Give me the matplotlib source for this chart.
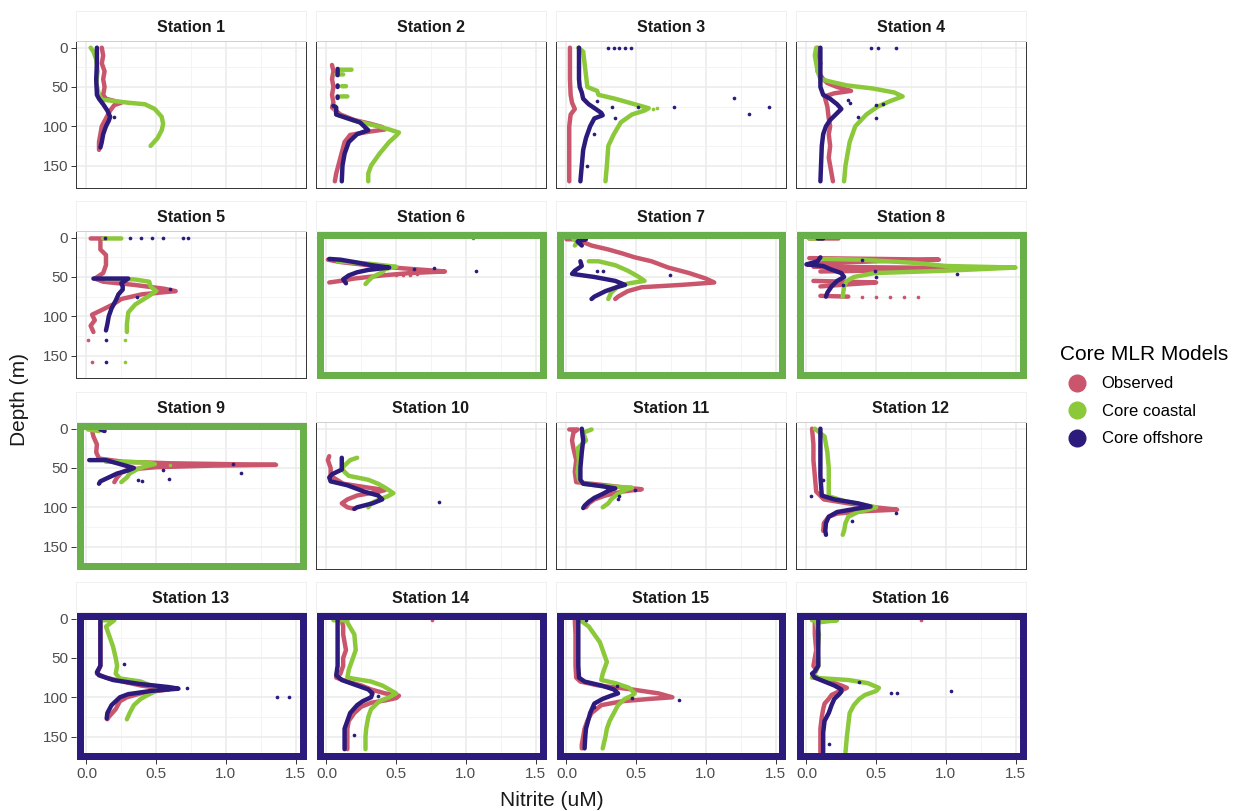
import matplotlib.pyplot as plt
from matplotlib.lines import Line2D
from matplotlib.patches import Rectangle

plt.rcParams['font.family'] = ['Liberation Sans', 'DejaVu Sans']

nan = float('nan')
GAP = (nan, nan)  # breaks a profile line

models = ['Observed', 'Core coastal', 'Core offshore']
model_colors = ['#C9566C', '#8BC83A', '#2C1B7C']
stations = [f'Station {i}' for i in range(1, 17)]
coastal_frame = [6, 7, 8, 9]
offshore_frame = [13, 14, 15, 16]
x_ticks = [0.0, 0.5, 1.0, 1.5]
y_ticks = [0, 50, 100, 150]

# profiles as (depth m, nitrite uM)
obs1 = [(0, 0.11), (10, 0.12), (20, 0.11), (30, 0.13), (40, 0.12), (50, 0.13), (60, 0.12), (65, 0.14), (70, 0.25), (73, 0.2), (80, 0.17), (90, 0.14), (100, 0.11), (110, 0.1), (120, 0.09), (130, 0.09)]
coast1 = [(0, 0.03), (5, 0.05), (15, 0.07), (30, 0.08), (45, 0.07), (60, 0.09), (66, 0.11), (70, 0.3), (72, 0.42), (78, 0.49), (88, 0.54), (97, 0.55), (105, 0.54), (115, 0.51), (121, 0.48), (125, 0.46)]
off1 = [(0, 0.075), (20, 0.075), (40, 0.07), (60, 0.075), (65, 0.09), (72, 0.12), (80, 0.15), (88, 0.17), (93, 0.16), (100, 0.14), (110, 0.12), (120, 0.11), (127, 0.1)]

obs2 = [(22, 0.04), (30, 0.05), (40, 0.04), (50, 0.05), (60, 0.04), (70, 0.05), (76, 0.04), (85, 0.1), (92, 0.2), (97, 0.32), (101, 0.4), (104, 0.42), (107, 0.3), (111, 0.17), (120, 0.13), (140, 0.1), (160, 0.07), (170, 0.06)]
coast2 = [(28, 0.09), (28, 0.18), GAP, (34, 0.07), (34, 0.12), GAP, (49, 0.11), (49, 0.14), GAP, (62, 0.1), (62, 0.15), GAP, (74, 0.06), (85, 0.07), (93, 0.2), (100, 0.37), (104, 0.45), (108, 0.52), (112, 0.5), (120, 0.45), (135, 0.38), (150, 0.32), (160, 0.3), (170, 0.3)]
off2 = [(27, 0.08), (35, 0.08), GAP, (48, 0.08), (50, 0.08), GAP, (62, 0.08), (64, 0.08), GAP, (74, 0.05), (76, 0.07), (85, 0.07), (95, 0.24), (100, 0.27), (105, 0.3), (110, 0.22), (120, 0.16), (135, 0.13), (150, 0.115), (170, 0.11)]

obs3 = [(0, 0.025), (20, 0.025), (40, 0.025), (60, 0.03), (70, 0.04), (78, 0.06), (85, 0.03), (100, 0.02), (130, 0.02), (170, 0.02)]
coast3 = [(0, 0.085), (5, 0.12), (20, 0.13), (35, 0.14), (50, 0.15), (55, 0.22), (60, 0.23), (65, 0.35), (72, 0.49), (77, 0.59), (80, 0.56), (85, 0.47), (95, 0.39), (110, 0.34), (125, 0.3), (150, 0.29), (170, 0.28)]
off3 = [(0, 0.09), (20, 0.09), (40, 0.09), (50, 0.095), (57, 0.11), (65, 0.12), (72, 0.16), (78, 0.21), (83, 0.25), (86, 0.26), (90, 0.2), (100, 0.17), (115, 0.14), (130, 0.12), (150, 0.11), (170, 0.1)]

obs4 = [(0, 0.08), (10, 0.07), (20, 0.1), (30, 0.08), (40, 0.12), (45, 0.15), (50, 0.22), (55, 0.32), (58, 0.2), (62, 0.13), (75, 0.15), (90, 0.16), (100, 0.17), (110, 0.16), (125, 0.17), (140, 0.16), (160, 0.18), (170, 0.19)]
coast4 = [(0, 0.07), (10, 0.06), (20, 0.07), (30, 0.08), (40, 0.1), (44, 0.19), (48, 0.29), (52, 0.48), (57, 0.63), (62, 0.69), (68, 0.6), (75, 0.51), (85, 0.43), (100, 0.35), (120, 0.31), (150, 0.28), (170, 0.27)]
off4 = [(0, 0.1), (20, 0.1), (40, 0.1), (50, 0.1), (60, 0.12), (65, 0.17), (72, 0.22), (78, 0.25), (85, 0.21), (92, 0.17), (100, 0.14), (110, 0.12), (125, 0.11), (170, 0.1)]

obs5 = [(1, 0.03), (1, 0.14), GAP, (5, 0.1), (15, 0.1), (22, 0.14), (35, 0.14), (45, 0.12), (52, 0.06), (56, 0.12), (60, 0.34), (65, 0.56), (68, 0.64), (72, 0.4), (78, 0.25), (85, 0.19), (92, 0.11), (98, 0.04), (105, 0.06), (112, 0.03), (120, 0.05)]
coast5 = [(1, 0.12), (1, 0.25), GAP, (53, 0.14), (53, 0.34), (56, 0.45), (62, 0.46), (68, 0.5), (75, 0.44), (85, 0.35), (95, 0.3), (110, 0.29), (120, 0.29)]
off5 = [(52, 0.05), (52, 0.3), (58, 0.25), (62, 0.26), (66, 0.26), (72, 0.23), (80, 0.21), (90, 0.18), (100, 0.16), (110, 0.15), (118, 0.14)]

obs6 = [(28, 0.01), (31, 0.1), (35, 0.3), (39, 0.55), (42, 0.78), (43, 0.85), (45, 0.6), (48, 0.4), (52, 0.2), (55, 0.1), (57, 0.02)]
coast6 = [(30, 0.08), (33, 0.3), (37, 0.5), (40, 0.42), (44, 0.4), (50, 0.33), (55, 0.3), (59, 0.28)]
off6 = [(27, 0.02), (28, 0.1), (31, 0.2), (35, 0.32), (38, 0.45), (41, 0.3), (44, 0.22), (48, 0.16), (53, 0.12), (58, 0.14)]

obs7 = [(2, 0.0), (2, 0.13), (5, 0.11), (10, 0.18), (15, 0.3), (20, 0.4), (25, 0.49), (30, 0.61), (38, 0.73), (45, 0.88), (52, 1.0), (57, 1.06), (60, 0.83), (63, 0.54), (68, 0.44), (75, 0.37), (78, 0.35)]
coast7 = [(2, 0.05), (5, 0.08), (10, 0.06), GAP, (30, 0.16), (30, 0.23), (35, 0.35), (42, 0.44), (50, 0.52), (55, 0.56), (58, 0.45), (62, 0.37), (70, 0.32), (78, 0.3)]
off7 = [(2, 0.09), (2, 0.14), (5, 0.08), (10, 0.11), GAP, (30, 0.1), (36, 0.11), (42, 0.06), (46, 0.04), (50, 0.2), (55, 0.35), (60, 0.42), (63, 0.36), (68, 0.28), (75, 0.2), (78, 0.18)]

obs8 = [(1, 0.02), (1, 0.23), GAP, (26, 0.02), (27, 0.5), (28, 0.95), (30, 0.5), (33, 0.05), GAP, (37, 0.05), (38, 0.7), (39, 1.3), (41, 0.8), (43, 0.1), GAP, (55, 0.05), (56, 0.3), (57, 0.5), (60, 0.25), (62, 0.1), GAP, (74, 0.1), (75, 0.3)]
coast8 = [(1, 0.02), (1, 0.1), GAP, (27, 0.12), (28, 0.39), (32, 0.77), (36, 1.0), (38, 1.5), (40, 1.25), (42, 1.0), (45, 0.49), (50, 0.34), (55, 0.29), (62, 0.27), (75, 0.26)]
off8 = [(1, 0.08), (1, 0.12), GAP, (25, 0.1), (30, 0.08), (34, 0.0), (36, 0.12), (40, 0.17), (45, 0.25), (50, 0.27), (55, 0.22), (62, 0.18), (70, 0.15), (75, 0.14)]

obs9 = [(2, 0.04), (10, 0.05), (20, 0.075), (30, 0.07), (38, 0.09), (42, 0.26), (44, 0.6), (46, 1.36), (47, 0.9), (49, 0.5), (52, 0.3), (56, 0.25), (62, 0.22), (68, 0.2)]
coast9 = [(1, 0.01), (3, 0.09), GAP, (42, 0.14), (43, 0.44), (45, 0.49), (48, 0.42), (52, 0.36), (57, 0.31), (62, 0.29), (68, 0.25)]
off9 = [(1, 0.1), (3, 0.13), GAP, (40, 0.02), (40, 0.14), (45, 0.24), (50, 0.34), (53, 0.3), (57, 0.22), (62, 0.16), (67, 0.1), (70, 0.09)]

obs10 = [(35, 0.02), (40, 0.01), (50, 0.03), (60, 0.03), (70, 0.12), (75, 0.3), (78, 0.42), (80, 0.38), (85, 0.22), (90, 0.15), (95, 0.11), (100, 0.15), (102, 0.2)]
coast10 = [(37, 0.22), (40, 0.17), (45, 0.14), (50, 0.11), (55, 0.13), (60, 0.16), (65, 0.3), (70, 0.37), (75, 0.42), (82, 0.48), (86, 0.44), (90, 0.38), (95, 0.32), (100, 0.3)]
off10 = [(37, 0.11), (45, 0.11), (52, 0.11), (58, 0.04), (62, 0.02), (67, 0.03), (72, 0.15), (80, 0.27), (85, 0.37), (90, 0.4), (95, 0.33), (100, 0.22), (102, 0.2)]

obs11 = [(1, 0.02), (1, 0.08), (5, 0.05), (15, 0.04), (25, 0.05), (40, 0.07), (55, 0.06), (68, 0.07), (72, 0.28), (75, 0.42), (77, 0.54), (80, 0.4), (85, 0.28), (90, 0.2), (95, 0.16), (100, 0.14)]
coast11 = [(1, 0.18), (5, 0.12), (15, 0.14), (25, 0.08), (40, 0.09), (55, 0.08), (65, 0.09), (70, 0.12), (73, 0.25), (75, 0.47), (78, 0.42), (84, 0.36), (90, 0.32), (95, 0.3), (100, 0.26)]
off11 = [(0, 0.11), (15, 0.12), (30, 0.11), (50, 0.1), (65, 0.1), (70, 0.12), (73, 0.25), (76, 0.35), (79, 0.3), (83, 0.26), (88, 0.2), (93, 0.16), (98, 0.13), (101, 0.12)]

obs12 = [(0, 0.04), (20, 0.05), (40, 0.05), (60, 0.06), (80, 0.07), (90, 0.125), (95, 0.3), (100, 0.49), (103, 0.65), (105, 0.41), (108, 0.22), (112, 0.16), (120, 0.125), (130, 0.12)]
coast12 = [(0, 0.06), (10, 0.13), (30, 0.15), (50, 0.16), (70, 0.16), (86, 0.16), (92, 0.27), (96, 0.38), (100, 0.5), (103, 0.44), (106, 0.37), (112, 0.3), (120, 0.28), (130, 0.27), (135, 0.26)]
off12 = [(0, 0.1), (20, 0.1), (40, 0.1), (60, 0.1), (85, 0.11), (90, 0.2), (95, 0.37), (99, 0.46), (102, 0.35), (106, 0.22), (112, 0.16), (120, 0.14), (130, 0.135), (135, 0.14)]

obs13 = [(2, 0.1), (20, 0.1), (40, 0.1), (60, 0.1), (70, 0.075), (75, 0.14), (80, 0.26), (85, 0.39), (88, 0.51), (90, 0.59), (92, 0.5), (95, 0.39), (100, 0.29), (105, 0.24), (115, 0.21), (125, 0.16), (128, 0.15)]
coast13 = [(2, 0.1), (2, 0.2), (10, 0.14), (20, 0.16), (35, 0.19), (50, 0.21), (60, 0.22), (70, 0.21), (76, 0.24), (80, 0.39), (85, 0.46), (88, 0.54), (92, 0.5), (97, 0.44), (102, 0.39), (110, 0.34), (120, 0.31), (128, 0.29)]
off13 = [(2, 0.1), (20, 0.1), (40, 0.1), (60, 0.1), (68, 0.075), (72, 0.09), (78, 0.19), (83, 0.38), (87, 0.59), (89, 0.66), (92, 0.46), (96, 0.3), (100, 0.24), (105, 0.21), (110, 0.18), (120, 0.15), (127, 0.145)]

obs14 = [(2, 0.11), (10, 0.12), (20, 0.12), (30, 0.13), (40, 0.14), (50, 0.12), (60, 0.12), (70, 0.1), (75, 0.07), (80, 0.15), (85, 0.25), (90, 0.32), (95, 0.42), (98, 0.52), (101, 0.5), (104, 0.42), (107, 0.32), (112, 0.25), (120, 0.2), (130, 0.16), (140, 0.15), (150, 0.15), (160, 0.15), (166, 0.15)]
coast14 = [(2, 0.05), (2, 0.15), (5, 0.15), (20, 0.2), (40, 0.21), (55, 0.18), (65, 0.16), (75, 0.15), (80, 0.32), (85, 0.4), (90, 0.45), (95, 0.5), (100, 0.45), (105, 0.38), (115, 0.32), (125, 0.3), (140, 0.285), (150, 0.28), (166, 0.28)]
off14 = [(2, 0.08), (20, 0.08), (40, 0.08), (60, 0.08), (72, 0.07), (78, 0.11), (85, 0.22), (90, 0.3), (95, 0.33), (100, 0.32), (105, 0.26), (110, 0.22), (120, 0.17), (130, 0.15), (140, 0.13), (150, 0.13), (166, 0.13)]

obs15 = [(2, 0.06), (20, 0.065), (40, 0.065), (60, 0.065), (75, 0.07), (80, 0.1), (85, 0.23), (90, 0.47), (95, 0.66), (100, 0.76), (102, 0.6), (105, 0.4), (110, 0.25), (120, 0.18), (130, 0.15), (140, 0.13), (150, 0.12), (160, 0.11), (165, 0.11)]
coast15 = [(2, 0.1), (10, 0.16), (20, 0.2), (30, 0.24), (40, 0.26), (55, 0.29), (70, 0.26), (78, 0.25), (82, 0.35), (88, 0.45), (95, 0.49), (98, 0.47), (102, 0.42), (105, 0.4), (110, 0.37), (120, 0.34), (130, 0.31), (140, 0.29), (150, 0.28), (165, 0.26)]
off15 = [(2, 0.085), (20, 0.085), (40, 0.085), (60, 0.085), (75, 0.09), (80, 0.13), (85, 0.25), (90, 0.34), (95, 0.37), (98, 0.32), (102, 0.26), (108, 0.2), (120, 0.17), (130, 0.155), (140, 0.14), (150, 0.135), (165, 0.13)]

obs16 = [(2, 0.06), (20, 0.06), (40, 0.07), (60, 0.05), (65, 0.07), (72, 0.05), (78, 0.11), (82, 0.2), (85, 0.25), (88, 0.29), (92, 0.24), (97, 0.18), (102, 0.16), (108, 0.13), (115, 0.12), (125, 0.11), (140, 0.1), (155, 0.1), (170, 0.1)]
coast16 = [(2, 0.04), (2, 0.22), (5, 0.07), (20, 0.09), (40, 0.08), (60, 0.085), (70, 0.06), (75, 0.04), (78, 0.3), (82, 0.44), (88, 0.52), (92, 0.5), (97, 0.42), (102, 0.38), (110, 0.34), (120, 0.31), (135, 0.3), (150, 0.29), (170, 0.28)]
off16 = [(2, 0.085), (20, 0.085), (40, 0.085), (60, 0.085), (67, 0.06), (70, 0.04), (75, 0.06), (80, 0.13), (85, 0.2), (90, 0.25), (93, 0.25), (97, 0.23), (102, 0.2), (110, 0.18), (120, 0.16), (130, 0.13), (145, 0.12), (160, 0.12), (170, 0.12)]

# isolated samples, by station
obs_dots = {
    5: [(130, 0.01), (158, 0.04)],
    6: [(1, 1.05), (47, 0.5), (47, 0.55), (47, 0.6), (46, 0.65)],
    8: [(75, 0.4), (75, 0.5), (75, 0.6), (75, 0.7), (75, 0.8)],
    14: [(2, 0.76)],
    16: [(2, 0.82)],
}
coast_dots = {
    3: [(77, 0.65), (78, 0.62)],
    5: [(130, 0.28), (158, 0.28)],
    9: [(46, 0.6)],
}
off_dots = {
    1: [(88, 0.2)],
    3: [(1, 0.3), (1, 0.34), (1, 0.38), (1, 0.42), (1, 0.46), (64, 1.2), (76, 1.45), (84, 1.31), (76, 0.77), (76, 0.51), (68, 0.22), (75, 0.33), (90, 0.35), (110, 0.2), (150, 0.15)],
    4: [(1, 0.46), (1, 0.51), (1, 0.64), (72, 0.55), (73, 0.5), (88, 0.37), (89, 0.5), (66, 0.3), (70, 0.31)],
    5: [(1, 0.13), (1, 0.31), (1, 0.39), (1, 0.47), (1, 0.55), (1, 0.69), (1, 0.73), (130, 0.14), (158, 0.14), (65, 0.6), (75, 0.36)],
    6: [(43, 1.07), (38, 0.77), (40, 0.63)],
    7: [(43, 0.22), (43, 0.26), (48, 0.74)],
    8: [(28, 0.4), (43, 0.49), (46, 1.08), (50, 0.5), (60, 0.26)],
    9: [(45, 1.05), (57, 1.11), (52, 0.55), (64, 0.59), (65, 0.37), (66, 0.4)],
    10: [(93, 0.81)],
    11: [(78, 0.49), (85, 0.38), (89, 0.37)],
    12: [(65, 0.12), (85, 0.03), (107, 0.64), (118, 0.33)],
    13: [(88, 0.72), (100, 1.37), (100, 1.45), (58, 0.27)],
    14: [(98, 0.37), (148, 0.2)],
    15: [(104, 0.81), (101, 0.47), (86, 0.36), (2, 0.14), (112, 0.2)],
    16: [(80, 0.38), (95, 0.61), (94, 0.65), (92, 1.04), (160, 0.16)],
}

observed = [obs1, obs2, obs3, obs4, obs5, obs6, obs7, obs8, obs9, obs10, obs11, obs12, obs13, obs14, obs15, obs16]
coastal = [coast1, coast2, coast3, coast4, coast5, coast6, coast7, coast8, coast9, coast10, coast11, coast12, coast13, coast14, coast15, coast16]
offshore = [off1, off2, off3, off4, off5, off6, off7, off8, off9, off10, off11, off12, off13, off14, off15, off16]

W, H = 1240, 811
col_left = [76, 316, 556, 796]
row_top = [41, 231, 422, 612]
panel_w, panel_h, strip_h = 230, 147, 30
frame_px = 7

fig = plt.figure(figsize=(W / 100, H / 100), dpi=100)

for i in range(16):
    r, c = divmod(i, 4)
    st = i + 1
    ax = fig.add_axes([col_left[c] / W, 1 - (row_top[r] + panel_h) / H, panel_w / W, panel_h / H])

    for prof, dots, col in zip([observed[i], coastal[i], offshore[i]],
                               [obs_dots, coast_dots, off_dots], model_colors):
        ax.plot([p[1] for p in prof], [p[0] for p in prof], color=col, lw=3.2,
                solid_capstyle='round', solid_joinstyle='round', zorder=3)
        if st in dots:
            ax.scatter([p[1] for p in dots[st]], [p[0] for p in dots[st]], s=7, color=col,
                       linewidths=0, zorder=4)

    ax.set_xlim(-0.075, 1.575)
    ax.set_ylim(178.5, -8.5)
    ax.set_xticks(x_ticks)
    ax.set_xticks([0.25, 0.75, 1.25], minor=True)
    ax.set_yticks(y_ticks)
    ax.set_yticks([25, 75, 125], minor=True)
    ax.grid(True, which='major', color='#EBEBEB', lw=1.1, zorder=0)
    ax.grid(True, which='minor', color='#F2F2F2', lw=0.6, zorder=0)
    ax.set_axisbelow(True)
    ax.tick_params(which='minor', length=0)
    ax.tick_params(which='major', length=3.5, width=0.7, color='#333333',
                   labelsize=11, labelcolor='#4D4D4D', pad=2)
    if r < 3:
        ax.tick_params(axis='x', length=0, labelbottom=False)
    else:
        ax.set_xticklabels(['0.0', '0.5', '1.0', '1.5'])
    if c > 0:
        ax.tick_params(axis='y', length=0, labelleft=False)

    for sp in ax.spines.values():
        sp.set_color('#333333')
        sp.set_linewidth(0.7)

    if st in coastal_frame or st in offshore_frame:
        # thick frame drawn inside the panel
        edge = '#6AB04A' if st in coastal_frame else '#2C1B7C'
        dx = frame_px / 2 / panel_w
        dy = frame_px / 2 / panel_h
        ax.add_patch(Rectangle((dx, dy), 1 - 2 * dx, 1 - 2 * dy, transform=ax.transAxes,
                               fill=False, edgecolor=edge, lw=frame_px * 0.72,
                               joinstyle='miter', zorder=6, clip_on=False))
        for sp in ax.spines.values():
            sp.set_visible(False)

    # facet strip
    sax = fig.add_axes([col_left[c] / W, 1 - row_top[r] / H, panel_w / W, strip_h / H])
    sax.set_xticks([])
    sax.set_yticks([])
    sax.set_facecolor('white')
    for sp in sax.spines.values():
        sp.set_color('#EEEEEE')
        sp.set_linewidth(0.6)
    sax.text(0.5, 0.45, stations[i], ha='center', va='center', fontsize=11.5,
             fontweight='bold', color='#1A1A1A', transform=sax.transAxes)

fig.text(20 / W, 1 - 400 / H, 'Depth (m)', rotation=90, ha='center', va='center',
         fontsize=15, color='#1A1A1A')
fig.text(552 / W, 1 - 801 / H, 'Nitrite (uM)', ha='center', va='center',
         fontsize=15, color='#1A1A1A')

handles = [Line2D([], [], ls='', marker='o', markersize=12, color=col) for col in model_colors]
leg = fig.legend(handles, models, loc='upper left', bbox_to_anchor=(1045 / W, 1 - 330 / H),
                 frameon=False, title='Core MLR Models', title_fontsize=15, fontsize=12,
                 handletextpad=0.5, labelspacing=0.75, alignment='left')

fig.savefig('out.png', dpi=100)
